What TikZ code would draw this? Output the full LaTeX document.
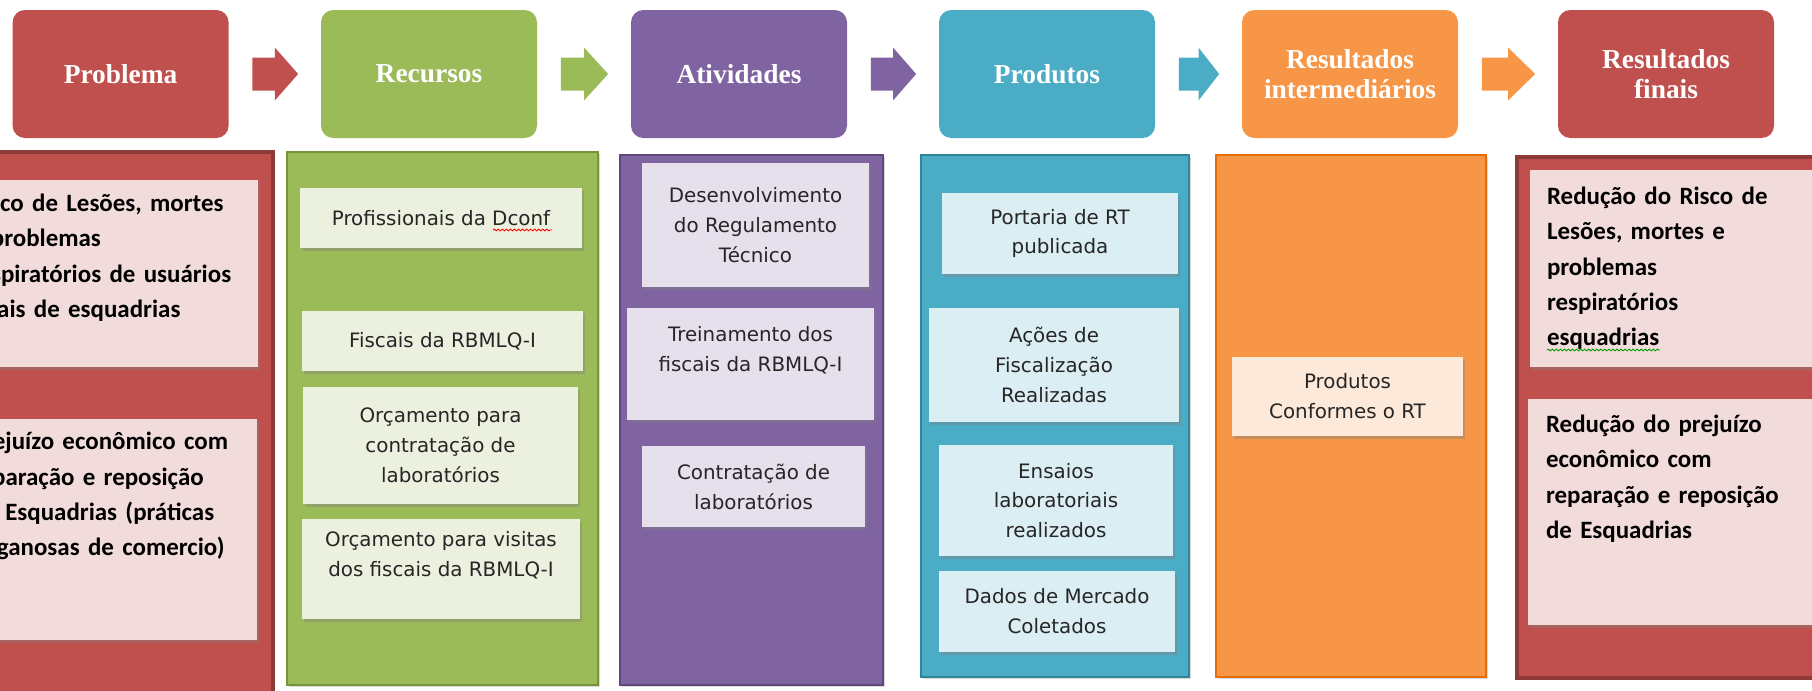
\documentclass[tikz,border=0pt]{standalone}
\usepackage{fontspec}
\newfontfamily\headfont{Liberation Serif}
\newfontfamily\cellfont{DejaVu Sans}
\newfontfamily\boldcellfont{Carlito}
\usetikzlibrary{calc,shadows,decorations.pathmorphing}

\newlength\pxl
\setlength\pxl{0.02cm}

\definecolor{redh}{HTML}{C0504D}
\definecolor{greenh}{HTML}{9BBB59}
\definecolor{purph}{HTML}{8064A2}
\definecolor{cyanh}{HTML}{4BACC6}
\definecolor{orngh}{HTML}{F79646}
\definecolor{redd}{HTML}{8E3A37}
\definecolor{greend}{HTML}{77933C}
\definecolor{purpd}{HTML}{5F497A}
\definecolor{cyand}{HTML}{31859B}
\definecolor{orngd}{HTML}{E46C0A}
\definecolor{pinkl}{HTML}{F2DCDB}
\definecolor{greenl}{HTML}{EBF1DE}
\definecolor{purpl}{HTML}{E5E0EC}
\definecolor{cyanl}{HTML}{DBEEF3}
\definecolor{orngl}{HTML}{FDE9D9}
\definecolor{celltext}{HTML}{262626}

\tikzset{
  header/.style={shape=rectangle, rounded corners=7pt, minimum width=216\pxl,
    minimum height=128\pxl, inner sep=0pt, align=center, text=white,
    font=\headfont\bfseries\fontsize{15.6}{17}\selectfont},
  panel/.style={drop shadow={shadow xshift=1pt, shadow yshift=-1.2pt, opacity=0.3}},
  cell/.style={shape=rectangle, inner sep=0pt, align=center, text=celltext,
    font=\cellfont\fontsize{11.3}{17}\selectfont,
    drop shadow={shadow xshift=1.2pt, shadow yshift=-1.5pt, opacity=0.4}},
  boldcell/.style={shape=rectangle, inner ysep=0pt, align=left, text=black,
    font=\boldcellfont\bfseries\fontsize{14.2}{20.1}\selectfont,
    drop shadow={shadow xshift=1.2pt, shadow yshift=-1.5pt, opacity=0.4}},
  squiggle/.style={decorate, decoration={snake, amplitude=0.5pt, segment length=2.3pt}, line width=0.5pt}
}

\begin{document}
\begin{tikzpicture}[x=0.02cm, y=-0.02cm]

\useasboundingbox (0,0) rectangle (1812,690);
\clip (0,0) rectangle (1812,690);

%% - Draw header boxes
%% - --------------------------------------

\node[header, fill=redh] (prob) at (120.6,74) {Problema};
\node[header, fill=greenh] (recu) at (429,74) {Recursos};
\node[header, fill=purph] (ativ) at (739,74) {Atividades};
\node[header, fill=cyanh] (prod) at (1047,74) {Produtos};
\node[header, fill=orngh] (resi) at (1350,74) {Resultados\\intermediários};
\node[header, fill=redh] (resf) at (1666,74) {Resultados\\finais};

%% - Draw block arrows
%% - --------------------------------------

\foreach \a/\b/\c in {prob/recu/redh, recu/ativ/greenh, ativ/prod/purph, prod/resi/cyanh, resi/resf/orngh}
  \fill[\c] ($(\a.east)+(23.5,-16.5)$) -- ($(\a.east)!.5!(\b.west)+(0,-16.5)$)
    -- ($(\a.east)!.5!(\b.west)+(0,-26.5)$) -- ($(\b.west)+(-22.5,0)$)
    -- ($(\a.east)!.5!(\b.west)+(0,26.5)$) -- ($(\a.east)!.5!(\b.west)+(0,16.5)$)
    -- ($(\a.east)+(23.5,16.5)$) -- cycle;

%% - Draw panels
%% - --------------------------------------

\filldraw[panel, fill=redh, draw=redd, line width=4\pxl] (-20,152) rectangle (273,700);
\filldraw[panel, fill=greenh, draw=greend, line width=1.5\pxl] (287,152) rectangle (598,685);
\filldraw[panel, fill=purph, draw=purpd, line width=1.5\pxl] (620,155) rectangle (883,685);
\filldraw[panel, fill=cyanh, draw=cyand, line width=1.5\pxl] (921,155) rectangle (1189,677);
\filldraw[panel, fill=orngh, draw=orngd, line width=1.5\pxl] (1216,155) rectangle (1486,677);
\filldraw[panel, fill=redh, draw=redd, line width=4\pxl] (1517,157) rectangle (1840,678);

%% - Problema
%% - --------------------------------------

\node[boldcell, fill=pinkl, inner xsep=4\pxl, text width=284\pxl, minimum height=187\pxl] (pb1) at (112,273.5)
  {Risco de Lesões, mortes\\e problemas\\respiratórios de usuários\\finais de esquadrias\\~};
\node[boldcell, fill=pinkl, inner xsep=2\pxl, text width=284\pxl, minimum height=221\pxl] (pb2) at (113,529.5)
  {Prejuízo econômico com\\reparação e reposição\\de Esquadrias (práticas\\enganosas de comercio)\\~\\~};

%% - Recursos
%% - --------------------------------------

\node[cell, fill=greenl, minimum width=282\pxl, minimum height=60\pxl] (rc1) at (441,218) {Profissionais da Dconf};
\node[cell, fill=greenl, minimum width=281\pxl, minimum height=60\pxl] (rc2) at (442.5,341) {Fiscais da RBMLQ-I};
\node[cell, fill=greenl, minimum width=275\pxl, minimum height=117\pxl] (rc3) at (440.5,445.5) {Orçamento para\\contratação de\\laboratórios};
\node[cell, fill=greenl, minimum width=278\pxl, minimum height=100\pxl] (rc4) at (441,569) {Orçamento para visitas\\dos fiscais da RBMLQ-I\\~};

\draw[squiggle, red] (493,230) -- (552,230);

%% - Atividades
%% - --------------------------------------

\node[cell, fill=purpl, minimum width=227\pxl, minimum height=124\pxl] (at1) at (755.5,225) {Desenvolvimento\\do Regulamento\\Técnico};
\node[cell, fill=purpl, minimum width=247\pxl, minimum height=112\pxl] (at2) at (750.5,364) {Treinamento dos\\fiscais da RBMLQ-I\\~};
\node[cell, fill=purpl, minimum width=223\pxl, minimum height=81\pxl] (at3) at (753.5,486.5) {Contratação de\\laboratórios};

%% - Produtos
%% - --------------------------------------

\node[cell, fill=cyanl, minimum width=236\pxl, minimum height=81\pxl] (pd1) at (1060,233.5) {Portaria de RT\\publicada};
\node[cell, fill=cyanl, minimum width=250\pxl, minimum height=114\pxl] (pd2) at (1054,365) {Ações de\\Fiscalização\\Realizadas};
\node[cell, fill=cyanl, minimum width=234\pxl, minimum height=111\pxl] (pd3) at (1056,500.5) {Ensaios\\laboratoriais\\realizados};
\node[cell, fill=cyanl, minimum width=236\pxl, minimum height=81\pxl] (pd4) at (1057,611.5) {Dados de Mercado\\Coletados};

%% - Resultados intermediarios
%% - --------------------------------------

\node[cell, fill=orngl, minimum width=231\pxl, minimum height=79\pxl] (ri1) at (1347.5,396.5) {Produtos\\Conformes o RT};

%% - Resultados finais
%% - --------------------------------------

\node[boldcell, fill=pinkl, inner xsep=17\pxl, text width=270\pxl, minimum height=197\pxl] (rf1) at (1682,268.5)
  {Redução do Risco de\\Lesões, mortes e\\problemas\\respiratórios\\esquadrias};
\node[boldcell, fill=pinkl, inner xsep=18\pxl, text width=270\pxl, minimum height=226\pxl] (rf2) at (1681,512)
  {Redução do prejuízo\\econômico com\\reparação e reposição\\de Esquadrias\\~\\~};

\draw[squiggle, green!60!black] (1547,350) -- (1660,350);

\end{tikzpicture}
\end{document}
